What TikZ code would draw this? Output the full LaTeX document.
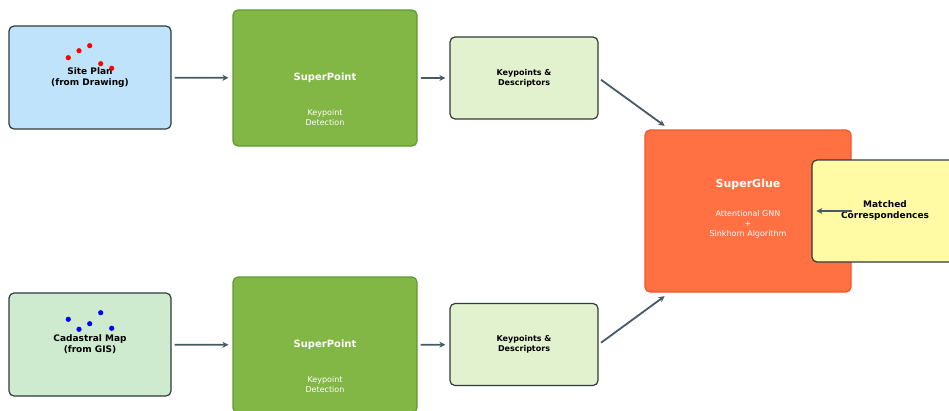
\documentclass[tikz,border=0pt]{standalone}
\usepackage{fontspec}
\setmainfont{DejaVu Sans}
\usepackage{xcolor}
\usetikzlibrary{arrows.meta,positioning,calc}
\definecolor{planblue}{HTML}{BFE3FA}
\definecolor{gisgreen}{HTML}{CEEBCF}
\definecolor{spgreen}{HTML}{82B645}
\definecolor{spedge}{HTML}{5E9A32}
\definecolor{kpgreen}{HTML}{E2F2CF}
\definecolor{gluered}{HTML}{FF7043}
\definecolor{glueedge}{HTML}{F0562A}
\definecolor{matchyellow}{HTML}{FFFAA3}
\definecolor{arrowgray}{HTML}{455A64}
\definecolor{edgegray}{HTML}{2F3A3A}

\begin{document}
\begin{tikzpicture}[
  x=1pt, y=-1pt,
  box/.style={draw=edgegray, line width=1.2pt, rounded corners=5pt, inner sep=0pt, align=center},
  inbox/.style={box, minimum width=162pt, minimum height=103pt, font=\bfseries\fontsize{9}{11}\selectfont},
  spbox/.style={box, draw=spedge, fill=spgreen, minimum width=184pt, minimum height=136pt},
  kpbox/.style={box, fill=kpgreen, minimum width=148pt, minimum height=82pt, font=\bfseries\fontsize{8}{10}\selectfont},
  ttl/.style={font=\bfseries\fontsize{10}{12}\selectfont, text=white},
  sub/.style={font=\fontsize{8}{10}\selectfont, text=white, align=center},
  arr/.style={-{Stealth[length=6pt,width=6pt]}, line width=1.8pt, draw=arrowgray, shorten <=3pt, shorten >=4pt}
]
\useasboundingbox (0,0) rectangle (949,410);
\clip (0,0) rectangle (949,410);
% ---------------- inputs
\node[inbox, fill=planblue] (site) at (90,77.5) {Site Plan\\(from Drawing)};
\node[inbox, fill=gisgreen] (cad) at (90,344.5) {Cadastral Map\\(from GIS)};
\foreach \x/\y in {68.3/57.7, 79/50.7, 89.7/45.7, 100.7/63.7, 111.7/68.3}
  \fill[red] (\x,\y) circle (2.6pt);
\foreach \x/\y in {68.3/319.3, 79/329.3, 89.7/323.7, 100.7/312.7, 111.7/328.3}
  \fill[blue] (\x,\y) circle (2.6pt);
% ---------------- SuperPoint branches
\node[spbox] (sp1) at (325,78) {};
\node[ttl] (sp1t) at (sp1.center) {SuperPoint};
\node[sub] (sp1s) at ($(sp1.center)+(0,40)$) {Keypoint\\Detection};
\node[spbox] (sp2) at (325,345) {};
\node[ttl] (sp2t) at (sp2.center) {SuperPoint};
\node[sub] (sp2s) at ($(sp2.center)+(0,40)$) {Keypoint\\Detection};
\node[kpbox] (kp1) at (524,78) {Keypoints \&\\Descriptors};
\node[kpbox] (kp2) at (524,344.5) {Keypoints \&\\Descriptors};
% ---------------- matcher and output
\node[box, draw=glueedge, fill=gluered, minimum width=206pt, minimum height=162pt] (glue) at (748,211) {};
\node[ttl, font=\bfseries\fontsize{11}{13}\selectfont] (gluet) at ($(glue.center)+(0,-27)$) {SuperGlue};
\node[sub] (glues) at ($(glue.center)+(0,13)$) {Attentional GNN\\+\\Sinkhorn Algorithm};
\node[box, fill=matchyellow, minimum width=146pt, minimum height=102pt, font=\bfseries\fontsize{9}{11}\selectfont] (match) at (885,211) {Matched\\Correspondences};
% ---------------- arrows
\draw[arr] (site) -- (sp1);
\draw[arr] (cad) -- (sp2);
\draw[arr] (sp1) -- (kp1);
\draw[arr] (sp2) -- (kp2);
\draw[arr, shorten >=1pt] (kp1.east) -- ($(glue.north west)+(21,-3)$);
\draw[arr, shorten >=1pt] (kp2.east) -- ($(glue.south west)+(21,3)$);
\draw[arr, shorten <=0pt, shorten >=5pt] (glue.east) -- (match.west);
\end{tikzpicture}
\end{document}
